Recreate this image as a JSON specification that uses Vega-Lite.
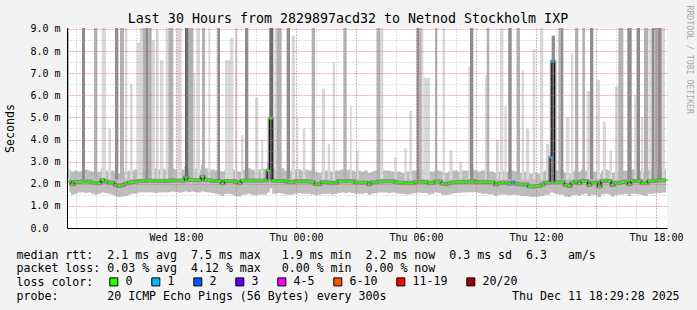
{
  "$schema": "https://vega.github.io/schema/vega-lite/v6.json",
  "width": 600,
  "height": 200,
  "autosize": "none",
  "padding": {"left": 67, "top": 28, "right": 30, "bottom": 82},
  "background": "#f3f3f3",
  "config": {
    "font": "DejaVu Sans Mono",
    "view": {"fill": "white", "stroke": null}
  },
  "title": {
    "text": "Last 30 Hours from 2829897acd32 to Netnod Stockholm IXP",
    "font": "DejaVu Sans Mono",
    "fontSize": 13.3,
    "fontWeight": "normal",
    "color": "black",
    "anchor": "middle",
    "frame": "group",
    "baseline": "alphabetic",
    "offset": 5,
    "dx": -19,
    "dy": 36
  },
  "datasets": {
    "med": [
      {"m":40,"v":2.10,"lo":1.60,"hi":2.65,"loss":"0"},
      {"m":50,"v":1.98,"lo":1.50,"hi":2.55,"loss":"0"},
      {"m":60,"v":2.08,"lo":1.55,"hi":2.60,"loss":"0"},
      {"m":70,"v":2.08,"lo":1.60,"hi":2.55,"loss":"0"},
      {"m":80,"v":2.10,"lo":1.62,"hi":2.60,"loss":"0"},
      {"m":90,"v":2.10,"lo":1.58,"hi":2.65,"loss":"0"},
      {"m":100,"v":2.10,"lo":1.60,"hi":2.60,"loss":"0"},
      {"m":110,"v":2.05,"lo":1.55,"hi":2.55,"loss":"0"},
      {"m":120,"v":2.03,"lo":1.50,"hi":2.50,"loss":"0"},
      {"m":130,"v":2.02,"lo":1.55,"hi":2.55,"loss":"0"},
      {"m":140,"v":2.17,"lo":1.60,"hi":2.70,"loss":"0"},
      {"m":150,"v":2.10,"lo":1.58,"hi":2.60,"loss":"0"},
      {"m":160,"v":2.05,"lo":1.55,"hi":2.55,"loss":"0"},
      {"m":170,"v":2.05,"lo":1.50,"hi":2.60,"loss":"0"},
      {"m":180,"v":1.95,"lo":1.45,"hi":2.50,"loss":"0"},
      {"m":190,"v":1.90,"lo":1.40,"hi":2.45,"loss":"0"},
      {"m":200,"v":1.95,"lo":1.42,"hi":2.50,"loss":"0"},
      {"m":210,"v":2.00,"lo":1.45,"hi":2.55,"loss":"0"},
      {"m":220,"v":2.05,"lo":1.50,"hi":2.60,"loss":"0"},
      {"m":230,"v":2.08,"lo":1.55,"hi":2.60,"loss":"0"},
      {"m":240,"v":2.10,"lo":1.55,"hi":2.65,"loss":"0"},
      {"m":250,"v":2.12,"lo":1.60,"hi":2.65,"loss":"0"},
      {"m":260,"v":2.13,"lo":1.62,"hi":2.70,"loss":"0"},
      {"m":270,"v":2.13,"lo":1.60,"hi":2.65,"loss":"0"},
      {"m":280,"v":2.15,"lo":1.62,"hi":2.70,"loss":"0"},
      {"m":290,"v":2.14,"lo":1.60,"hi":2.65,"loss":"0"},
      {"m":300,"v":2.14,"lo":1.58,"hi":2.70,"loss":"0"},
      {"m":310,"v":2.13,"lo":1.60,"hi":2.65,"loss":"0"},
      {"m":320,"v":2.14,"lo":1.62,"hi":2.70,"loss":"0"},
      {"m":330,"v":2.13,"lo":1.60,"hi":2.65,"loss":"0"},
      {"m":340,"v":2.14,"lo":1.62,"hi":2.70,"loss":"0"},
      {"m":350,"v":2.16,"lo":1.65,"hi":2.70,"loss":"0"},
      {"m":360,"v":2.15,"lo":1.62,"hi":2.65,"loss":"0"},
      {"m":370,"v":2.15,"lo":1.60,"hi":2.70,"loss":"0"},
      {"m":380,"v":2.14,"lo":1.62,"hi":2.65,"loss":"0"},
      {"m":390,"v":2.28,"lo":1.65,"hi":2.80,"loss":"0"},
      {"m":400,"v":2.17,"lo":1.62,"hi":2.70,"loss":"0"},
      {"m":410,"v":2.17,"lo":1.65,"hi":2.65,"loss":"0"},
      {"m":420,"v":2.17,"lo":1.62,"hi":2.70,"loss":"0"},
      {"m":430,"v":2.16,"lo":1.60,"hi":2.65,"loss":"0"},
      {"m":440,"v":2.32,"lo":1.65,"hi":2.85,"loss":"0"},
      {"m":450,"v":2.17,"lo":1.62,"hi":2.70,"loss":"0"},
      {"m":460,"v":2.17,"lo":1.60,"hi":2.65,"loss":"0"},
      {"m":470,"v":2.13,"lo":1.58,"hi":2.65,"loss":"0"},
      {"m":480,"v":2.12,"lo":1.55,"hi":2.60,"loss":"0"},
      {"m":490,"v":2.12,"lo":1.52,"hi":2.60,"loss":"0"},
      {"m":500,"v":2.02,"lo":1.45,"hi":2.55,"loss":"0"},
      {"m":510,"v":2.13,"lo":1.55,"hi":2.65,"loss":"0"},
      {"m":520,"v":2.13,"lo":1.55,"hi":2.60,"loss":"0"},
      {"m":530,"v":2.13,"lo":1.50,"hi":2.65,"loss":"0"},
      {"m":540,"v":2.08,"lo":1.45,"hi":2.60,"loss":"0"},
      {"m":550,"v":2.02,"lo":1.42,"hi":2.55,"loss":"0"},
      {"m":560,"v":2.14,"lo":1.50,"hi":2.65,"loss":"0"},
      {"m":570,"v":2.15,"lo":1.52,"hi":2.65,"loss":"0"},
      {"m":580,"v":2.15,"lo":1.55,"hi":2.70,"loss":"0"},
      {"m":590,"v":2.15,"lo":1.50,"hi":2.65,"loss":"0"},
      {"m":600,"v":2.15,"lo":1.48,"hi":2.60,"loss":"0"},
      {"m":610,"v":2.15,"lo":1.50,"hi":2.65,"loss":"0"},
      {"m":620,"v":2.15,"lo":1.52,"hi":2.70,"loss":"0"},
      {"m":630,"v":2.15,"lo":1.50,"hi":2.65,"loss":"0"},
      {"m":637,"v":2.60,"lo":1.60,"hi":3.00,"loss":"0"},
      {"m":645,"v":4.95,"lo":1.80,"hi":5.40,"loss":"0"},
      {"m":652,"v":2.15,"lo":1.55,"hi":2.70,"loss":"0"},
      {"m":660,"v":2.12,"lo":1.55,"hi":2.65,"loss":"0"},
      {"m":670,"v":2.12,"lo":1.58,"hi":2.65,"loss":"0"},
      {"m":680,"v":2.13,"lo":1.55,"hi":2.70,"loss":"0"},
      {"m":690,"v":2.10,"lo":1.52,"hi":2.60,"loss":"0"},
      {"m":700,"v":2.07,"lo":1.50,"hi":2.60,"loss":"0"},
      {"m":710,"v":2.08,"lo":1.52,"hi":2.60,"loss":"0"},
      {"m":720,"v":2.11,"lo":1.55,"hi":2.65,"loss":"0"},
      {"m":730,"v":2.11,"lo":1.58,"hi":2.65,"loss":"0"},
      {"m":740,"v":2.11,"lo":1.55,"hi":2.60,"loss":"0"},
      {"m":750,"v":2.11,"lo":1.55,"hi":2.65,"loss":"0"},
      {"m":760,"v":2.10,"lo":1.55,"hi":2.60,"loss":"0"},
      {"m":770,"v":2.08,"lo":1.52,"hi":2.60,"loss":"0"},
      {"m":780,"v":1.98,"lo":1.48,"hi":2.55,"loss":"0"},
      {"m":790,"v":1.98,"lo":1.50,"hi":2.50,"loss":"0"},
      {"m":800,"v":2.07,"lo":1.55,"hi":2.60,"loss":"0"},
      {"m":810,"v":2.07,"lo":1.55,"hi":2.60,"loss":"0"},
      {"m":820,"v":2.05,"lo":1.55,"hi":2.60,"loss":"0"},
      {"m":830,"v":2.02,"lo":1.52,"hi":2.55,"loss":"0"},
      {"m":840,"v":2.04,"lo":1.55,"hi":2.60,"loss":"0"},
      {"m":850,"v":2.11,"lo":1.58,"hi":2.60,"loss":"0"},
      {"m":860,"v":2.11,"lo":1.60,"hi":2.65,"loss":"0"},
      {"m":870,"v":2.11,"lo":1.58,"hi":2.60,"loss":"0"},
      {"m":880,"v":2.12,"lo":1.60,"hi":2.65,"loss":"0"},
      {"m":890,"v":2.11,"lo":1.58,"hi":2.60,"loss":"0"},
      {"m":900,"v":2.05,"lo":1.55,"hi":2.55,"loss":"0"},
      {"m":910,"v":2.05,"lo":1.55,"hi":2.60,"loss":"0"},
      {"m":920,"v":2.05,"lo":1.55,"hi":2.55,"loss":"0"},
      {"m":930,"v":2.05,"lo":1.58,"hi":2.60,"loss":"0"},
      {"m":940,"v":1.98,"lo":1.50,"hi":2.50,"loss":"0"},
      {"m":950,"v":2.07,"lo":1.55,"hi":2.55,"loss":"0"},
      {"m":960,"v":2.07,"lo":1.58,"hi":2.60,"loss":"0"},
      {"m":970,"v":2.10,"lo":1.60,"hi":2.60,"loss":"0"},
      {"m":980,"v":2.11,"lo":1.60,"hi":2.60,"loss":"0"},
      {"m":990,"v":2.11,"lo":1.60,"hi":2.60,"loss":"0"},
      {"m":1000,"v":2.11,"lo":1.58,"hi":2.60,"loss":"0"},
      {"m":1010,"v":2.11,"lo":1.60,"hi":2.55,"loss":"0"},
      {"m":1020,"v":2.07,"lo":1.58,"hi":2.55,"loss":"0"},
      {"m":1030,"v":2.05,"lo":1.55,"hi":2.55,"loss":"0"},
      {"m":1040,"v":2.05,"lo":1.55,"hi":2.50,"loss":"0"},
      {"m":1050,"v":2.03,"lo":1.52,"hi":2.55,"loss":"0"},
      {"m":1060,"v":2.02,"lo":1.52,"hi":2.55,"loss":"0"},
      {"m":1070,"v":2.02,"lo":1.55,"hi":2.60,"loss":"0"},
      {"m":1080,"v":2.08,"lo":1.58,"hi":2.60,"loss":"0"},
      {"m":1090,"v":2.09,"lo":1.60,"hi":2.65,"loss":"0"},
      {"m":1100,"v":2.09,"lo":1.58,"hi":2.65,"loss":"0"},
      {"m":1110,"v":2.08,"lo":1.58,"hi":2.60,"loss":"0"},
      {"m":1120,"v":2.02,"lo":1.52,"hi":2.55,"loss":"0"},
      {"m":1130,"v":2.03,"lo":1.55,"hi":2.55,"loss":"0"},
      {"m":1140,"v":2.10,"lo":1.60,"hi":2.60,"loss":"0"},
      {"m":1150,"v":2.10,"lo":1.58,"hi":2.60,"loss":"0"},
      {"m":1160,"v":2.00,"lo":1.50,"hi":2.55,"loss":"0"},
      {"m":1170,"v":1.98,"lo":1.50,"hi":2.50,"loss":"0"},
      {"m":1180,"v":2.02,"lo":1.52,"hi":2.55,"loss":"0"},
      {"m":1190,"v":2.06,"lo":1.55,"hi":2.60,"loss":"0"},
      {"m":1200,"v":2.07,"lo":1.58,"hi":2.60,"loss":"0"},
      {"m":1210,"v":2.08,"lo":1.58,"hi":2.55,"loss":"0"},
      {"m":1220,"v":2.09,"lo":1.60,"hi":2.60,"loss":"0"},
      {"m":1230,"v":2.08,"lo":1.60,"hi":2.60,"loss":"0"},
      {"m":1240,"v":2.09,"lo":1.62,"hi":2.60,"loss":"0"},
      {"m":1250,"v":2.13,"lo":1.62,"hi":2.65,"loss":"0"},
      {"m":1260,"v":2.08,"lo":1.60,"hi":2.60,"loss":"0"},
      {"m":1270,"v":2.07,"lo":1.58,"hi":2.55,"loss":"0"},
      {"m":1280,"v":2.07,"lo":1.55,"hi":2.60,"loss":"0"},
      {"m":1290,"v":2.08,"lo":1.55,"hi":2.60,"loss":"0"},
      {"m":1300,"v":2.07,"lo":1.52,"hi":2.55,"loss":"0"},
      {"m":1310,"v":2.07,"lo":1.52,"hi":2.55,"loss":"0"},
      {"m":1320,"v":1.97,"lo":1.45,"hi":2.50,"loss":"0"},
      {"m":1330,"v":2.02,"lo":1.50,"hi":2.55,"loss":"0"},
      {"m":1340,"v":2.05,"lo":1.52,"hi":2.60,"loss":"0"},
      {"m":1350,"v":2.05,"lo":1.50,"hi":2.55,"loss":"0"},
      {"m":1360,"v":2.00,"lo":1.48,"hi":2.55,"loss":"0"},
      {"m":1370,"v":2.07,"lo":1.50,"hi":2.60,"loss":"1"},
      {"m":1380,"v":2.00,"lo":1.50,"hi":2.55,"loss":"0"},
      {"m":1390,"v":1.98,"lo":1.48,"hi":2.50,"loss":"0"},
      {"m":1400,"v":1.97,"lo":1.45,"hi":2.50,"loss":"0"},
      {"m":1410,"v":1.97,"lo":1.45,"hi":2.55,"loss":"0"},
      {"m":1420,"v":1.88,"lo":1.42,"hi":2.45,"loss":"0"},
      {"m":1430,"v":1.87,"lo":1.40,"hi":2.45,"loss":"0"},
      {"m":1440,"v":1.90,"lo":1.42,"hi":2.50,"loss":"0"},
      {"m":1450,"v":1.90,"lo":1.42,"hi":2.45,"loss":"0"},
      {"m":1460,"v":1.97,"lo":1.45,"hi":2.55,"loss":"0"},
      {"m":1470,"v":2.05,"lo":1.50,"hi":2.60,"loss":"0"},
      {"m":1480,"v":2.05,"lo":1.52,"hi":2.60,"loss":"0"},
      {"m":1485,"v":3.20,"lo":1.60,"hi":3.60,"loss":"1"},
      {"m":1490,"v":7.53,"lo":1.60,"hi":8.00,"loss":"1"},
      {"m":1500,"v":2.07,"lo":1.55,"hi":2.60,"loss":"0"},
      {"m":1510,"v":2.07,"lo":1.52,"hi":2.60,"loss":"0"},
      {"m":1520,"v":2.07,"lo":1.50,"hi":2.60,"loss":"0"},
      {"m":1530,"v":1.95,"lo":1.42,"hi":2.50,"loss":"0"},
      {"m":1540,"v":1.90,"lo":1.40,"hi":2.45,"loss":"0"},
      {"m":1550,"v":2.05,"lo":1.48,"hi":2.55,"loss":"0"},
      {"m":1560,"v":2.10,"lo":1.50,"hi":2.60,"loss":"0"},
      {"m":1570,"v":2.02,"lo":1.45,"hi":2.55,"loss":"0"},
      {"m":1580,"v":2.12,"lo":1.52,"hi":2.65,"loss":"0"},
      {"m":1590,"v":2.12,"lo":1.55,"hi":2.60,"loss":"0"},
      {"m":1600,"v":1.95,"lo":1.45,"hi":2.50,"loss":"0"},
      {"m":1610,"v":2.05,"lo":1.50,"hi":2.55,"loss":"0"},
      {"m":1620,"v":2.05,"lo":1.48,"hi":2.55,"loss":"0"},
      {"m":1630,"v":1.88,"lo":1.40,"hi":2.45,"loss":"0"},
      {"m":1640,"v":2.13,"lo":1.52,"hi":2.60,"loss":"0"},
      {"m":1650,"v":2.14,"lo":1.55,"hi":2.65,"loss":"0"},
      {"m":1660,"v":2.12,"lo":1.52,"hi":2.60,"loss":"0"},
      {"m":1670,"v":1.95,"lo":1.42,"hi":2.50,"loss":"0"},
      {"m":1680,"v":2.03,"lo":1.48,"hi":2.55,"loss":"0"},
      {"m":1690,"v":2.03,"lo":1.50,"hi":2.55,"loss":"0"},
      {"m":1700,"v":2.08,"lo":1.52,"hi":2.60,"loss":"0"},
      {"m":1710,"v":2.10,"lo":1.55,"hi":2.60,"loss":"0"},
      {"m":1720,"v":1.98,"lo":1.45,"hi":2.50,"loss":"0"},
      {"m":1730,"v":2.13,"lo":1.55,"hi":2.65,"loss":"0"},
      {"m":1740,"v":2.13,"lo":1.55,"hi":2.60,"loss":"0"},
      {"m":1750,"v":2.12,"lo":1.52,"hi":2.60,"loss":"0"},
      {"m":1760,"v":2.02,"lo":1.48,"hi":2.55,"loss":"0"},
      {"m":1770,"v":2.02,"lo":1.45,"hi":2.55,"loss":"0"},
      {"m":1780,"v":2.13,"lo":1.55,"hi":2.65,"loss":"0"},
      {"m":1790,"v":2.13,"lo":1.55,"hi":2.60,"loss":"0"},
      {"m":1800,"v":2.13,"lo":1.58,"hi":2.65,"loss":"0"},
      {"m":1810,"v":2.16,"lo":1.58,"hi":2.65,"loss":"0"},
      {"m":1820,"v":2.16,"lo":1.60,"hi":2.70,"loss":"0"},
      {"m":1830,"v":2.16,"lo":1.60,"hi":2.65,"loss":"0"}
    ],
    "spk": [
      {"a":33,"b":38,"t":10,"g":3},
      {"a":78,"b":87,"t":10,"g":3},
      {"a":114,"b":124,"t":10,"g":2},
      {"a":137,"b":150,"t":10,"g":1},
      {"a":157,"b":165,"t":4.5,"g":1},
      {"a":177,"b":187,"t":10,"g":3},
      {"a":192,"b":204,"t":10,"g":2},
      {"a":207,"b":214,"t":10,"g":1},
      {"a":222,"b":230,"t":6.5,"g":1},
      {"a":242,"b":252,"t":8.4,"g":1},
      {"a":252,"b":260,"t":10,"g":1},
      {"a":260,"b":268,"t":10,"g":2},
      {"a":268,"b":277,"t":10,"g":3},
      {"a":277,"b":287,"t":10,"g":2},
      {"a":287,"b":297,"t":8.5,"g":1},
      {"a":300,"b":308,"t":9.0,"g":1},
      {"a":312,"b":322,"t":7.6,"g":1},
      {"a":329,"b":337,"t":10,"g":1},
      {"a":337,"b":352,"t":10,"g":2},
      {"a":362,"b":377,"t":10,"g":1},
      {"a":387,"b":397,"t":10,"g":4},
      {"a":397,"b":412,"t":10,"g":2},
      {"a":412,"b":418,"t":7.0,"g":1},
      {"a":422,"b":432,"t":10,"g":1},
      {"a":438,"b":447,"t":10,"g":2},
      {"a":457,"b":463,"t":10,"g":1},
      {"a":484,"b":492,"t":10,"g":3},
      {"a":507,"b":522,"t":7.6,"g":1},
      {"a":522,"b":532,"t":8.6,"g":1},
      {"a":537,"b":544,"t":10,"g":1},
      {"a":555,"b":562,"t":4.2,"g":1},
      {"a":567,"b":577,"t":10,"g":3},
      {"a":597,"b":607,"t":5.9,"g":1},
      {"a":615,"b":622,"t":4.0,"g":1},
      {"a":640,"b":652,"t":10,"g":4},
      {"a":656,"b":662,"t":10,"g":1},
      {"a":662,"b":677,"t":10,"g":2},
      {"a":692,"b":702,"t":10,"g":3},
      {"a":707,"b":717,"t":8.7,"g":1},
      {"a":722,"b":727,"t":5.0,"g":1},
      {"a":740,"b":748,"t":4.5,"g":1},
      {"a":767,"b":777,"t":10,"g":2},
      {"a":797,"b":807,"t":6.3,"g":1},
      {"a":815,"b":822,"t":3.8,"g":1},
      {"a":830,"b":837,"t":7.5,"g":1},
      {"a":862,"b":872,"t":10,"g":2},
      {"a":882,"b":887,"t":5.5,"g":1},
      {"a":900,"b":908,"t":3.5,"g":1},
      {"a":962,"b":972,"t":10,"g":2},
      {"a":972,"b":982,"t":10,"g":1},
      {"a":1015,"b":1022,"t":3.2,"g":1},
      {"a":1045,"b":1052,"t":3.6,"g":1},
      {"a":1060,"b":1068,"t":5.3,"g":1},
      {"a":1082,"b":1090,"t":10,"g":3},
      {"a":1090,"b":1097,"t":10,"g":2},
      {"a":1097,"b":1102,"t":10,"g":1},
      {"a":1102,"b":1122,"t":6.8,"g":1},
      {"a":1137,"b":1144,"t":10,"g":2},
      {"a":1160,"b":1167,"t":10,"g":1},
      {"a":1180,"b":1190,"t":3.5,"g":1},
      {"a":1210,"b":1218,"t":3.0,"g":1},
      {"a":1237,"b":1244,"t":7.3,"g":1},
      {"a":1242,"b":1252,"t":10,"g":3},
      {"a":1287,"b":1294,"t":6.9,"g":1},
      {"a":1292,"b":1300,"t":10,"g":2},
      {"a":1320,"b":1328,"t":4.0,"g":1},
      {"a":1332,"b":1342,"t":10,"g":1},
      {"a":1345,"b":1352,"t":5.5,"g":1},
      {"a":1357,"b":1367,"t":10,"g":3},
      {"a":1382,"b":1392,"t":10,"g":2},
      {"a":1397,"b":1404,"t":7.1,"g":1},
      {"a":1410,"b":1420,"t":4.5,"g":1},
      {"a":1430,"b":1438,"t":8.1,"g":1},
      {"a":1452,"b":1462,"t":10,"g":1},
      {"a":1470,"b":1480,"t":3.8,"g":1},
      {"a":1487,"b":1497,"t":8.7,"g":3},
      {"a":1507,"b":1514,"t":10,"g":2},
      {"a":1514,"b":1522,"t":10,"g":3},
      {"a":1530,"b":1540,"t":5.0,"g":1},
      {"a":1545,"b":1552,"t":7.9,"g":1},
      {"a":1557,"b":1567,"t":10,"g":2},
      {"a":1579,"b":1587,"t":10,"g":2},
      {"a":1592,"b":1602,"t":6.2,"g":1},
      {"a":1602,"b":1612,"t":10,"g":3},
      {"a":1622,"b":1632,"t":6.7,"g":1},
      {"a":1640,"b":1650,"t":4.8,"g":1},
      {"a":1660,"b":1668,"t":3.5,"g":1},
      {"a":1677,"b":1687,"t":6.4,"g":1},
      {"a":1687,"b":1702,"t":10,"g":2},
      {"a":1714,"b":1727,"t":10,"g":3},
      {"a":1735,"b":1742,"t":6.0,"g":1},
      {"a":1742,"b":1752,"t":10,"g":3},
      {"a":1755,"b":1762,"t":5.0,"g":1},
      {"a":1764,"b":1777,"t":10,"g":2},
      {"a":1780,"b":1787,"t":9.0,"g":1},
      {"a":1787,"b":1794,"t":10,"g":3},
      {"a":1794,"b":1804,"t":10,"g":2},
      {"a":1804,"b":1817,"t":10,"g":3},
      {"a":1817,"b":1827,"t":10,"g":1}
    ]
  },
  "resolve": {
    "axis": {"x": "independent", "y": "independent"},
    "scale": {"color": "independent"}
  },
  "layer": [
    {
      "data": {"name": "med"},
      "mark": {"type": "area", "interpolate": "step", "color": "#bdbdbd", "opacity": 1},
      "encoding": {
        "x": {
          "field": "m", "type": "quantitative",
          "scale": {"domain": [33, 1833], "nice": false, "zero": false},
          "axis": {
            "orient": "bottom",
            "values": [60,120,180,240,300,360,420,480,540,600,660,720,780,840,900,960,1020,1080,1140,1200,1260,1320,1380,1440,1500,1560,1620,1680,1740,1800],
            "grid": true, "gridColor": "#999999", "gridDash": [1, 2], "gridOpacity": 0.6, "gridWidth": 1,
            "domain": true, "domainColor": "black", "domainWidth": 1,
            "ticks": false,
            "labelExpr": "datum.value == 360 ? 'Wed 18:00' : datum.value == 720 ? 'Thu 00:00' : datum.value == 1080 ? 'Thu 06:00' : datum.value == 1440 ? 'Thu 12:00' : datum.value == 1800 ? 'Thu 18:00' : ''",
            "labelFont": "DejaVu Sans Mono", "labelFontSize": 10, "labelColor": "black",
            "labelPadding": 4, "labelBaseline": "top", "labelFlush": false, "labelOverlap": false, "labelBound": false,
            "title": [
              "median rtt:\u00a0\u00a02.1 ms avg\u00a0\u00a07.5 ms max\u00a0\u00a0\u00a01.9 ms min\u00a0\u00a02.2 ms now\u00a0\u00a00.3 ms sd\u00a0\u00a06.3\u00a0\u00a0\u00a0am/s",
              "packet loss: 0.03 % avg\u00a0\u00a04.12 % max\u00a0\u00a0\u00a00.00 % min\u00a0\u00a00.00 % now",
              "loss color:",
              "probe:\u00a0\u00a0\u00a0\u00a0\u00a0\u00a0\u00a020 ICMP Echo Pings (56 Bytes) every 300s\u00a0\u00a0\u00a0\u00a0\u00a0\u00a0\u00a0\u00a0\u00a0\u00a0\u00a0\u00a0\u00a0\u00a0\u00a0\u00a0\u00a0\u00a0Thu Dec 11 18:29:28 2025"
            ],
            "titleFont": "DejaVu Sans Mono", "titleFontSize": 11.6, "titleFontWeight": "normal", "titleColor": "black",
            "titleX": -51, "titleY": 30.3, "titleAlign": "left", "titleAnchor": "start", "titleBaseline": "alphabetic", "titleLineHeight": 13.6,
            "zindex": 1
          }
        },
        "y": {
          "field": "lo", "type": "quantitative",
          "scale": {"domain": [0, 9.045], "nice": false, "zero": true},
          "axis": {
            "orient": "left",
            "values": [0,0.5,1,1.5,2,2.5,3,3.5,4,4.5,5,5.5,6,6.5,7,7.5,8,8.5,9],
            "grid": true, "gridColor": "#999999", "gridDash": [1, 2], "gridOpacity": 0.6, "gridWidth": 1,
            "domain": true, "domainColor": "black", "domainWidth": 1,
            "ticks": false,
            "labelExpr": "datum.value % 1 !== 0 ? '' : datum.value === 0 ? '0.0' : format(datum.value, '.1f') + ' m'",
            "labelFont": "DejaVu Sans Mono", "labelFontSize": 10, "labelColor": "black",
            "labelAlign": "left", "labelPadding": 37, "labelBaseline": "middle", "labelOverlap": false, "labelBound": false, "labelFlush": false,
            "title": "Seconds",
            "titleFont": "DejaVu Sans Mono", "titleFontSize": 11.6, "titleFontWeight": "normal", "titleColor": "black",
            "titleX": -57, "titleY": 100, "titleAngle": -90, "titleAlign": "center", "titleBaseline": "middle",
            "zindex": 1
          }
        },
        "y2": {"field": "hi"}
      }
    },
    {
      "data": {"name": "spk"},
      "mark": {"type": "rect", "clip": true},
      "encoding": {
        "x": {
          "field": "a", "type": "quantitative",
          "axis": {
            "orient": "bottom",
            "values": [180,360,540,720,900,1080,1260,1440,1620,1800],
            "grid": true, "gridColor": "#ff5a5a", "gridDash": [1, 2], "gridOpacity": 0.7, "gridWidth": 1,
            "domain": false, "ticks": false, "labels": false, "title": null,
            "zindex": 2
          }
        },
        "x2": {"field": "b"},
        "y": {
          "field": "t", "type": "quantitative",
          "axis": {
            "orient": "right",
            "values": [1,2,3,4,5,6,7,8,9],
            "grid": true, "gridColor": "#ff5a5a", "gridDash": [1, 2], "gridOpacity": 0.7, "gridWidth": 1,
            "domain": false, "ticks": false, "labels": false,
            "title": "RRDTOOL / TOBI OETIKER",
            "titleFont": "DejaVu Sans Mono", "titleFontSize": 8.2, "titleFontWeight": "normal", "titleColor": "#a8a8a8",
            "titleAngle": 90, "titleX": 21, "titleY": -23, "titleAlign": "left", "titleBaseline": "middle",
            "zindex": 2
          }
        },
        "y2": {"datum": 2.2},
        "color": {
          "field": "g", "type": "ordinal",
          "scale": {"domain": [1, 2, 3, 4], "range": ["#d8d8d8", "#b2b2b2", "#8e8e8e", "#6c6c6c"]},
          "legend": null
        },
        "order": {"field": "g"}
      }
    },
    {
      "data": {"name": "med"},
      "mark": {"type": "line", "interpolate": "step", "color": "#7a7a7a", "strokeWidth": 4, "strokeJoin": "round", "opacity": 0.8},
      "encoding": {
        "x": {"field": "m", "type": "quantitative", "axis": null},
        "y": {"field": "v", "type": "quantitative", "axis": null}
      }
    },
    {
      "data": {"name": "med"},
      "mark": {"type": "line", "interpolate": "step", "color": "black", "strokeWidth": 1},
      "encoding": {
        "x": {"field": "m", "type": "quantitative", "axis": null},
        "y": {"field": "v", "type": "quantitative", "axis": null}
      }
    },
    {
      "data": {"name": "med"},
      "mark": {"type": "point", "shape": "M-0.85,-0.5L0.85,-0.5L0.85,0.5L-0.85,0.5Z", "filled": true, "size": 16, "opacity": 1},
      "encoding": {
        "x": {"field": "m", "type": "quantitative", "axis": null},
        "y": {"field": "v", "type": "quantitative", "axis": null},
        "color": {
          "field": "loss", "type": "nominal",
          "scale": {
            "domain": ["0", "1", "2", "3", "4-5", "6-10", "11-19", "20/20"],
            "range": ["#26ff00", "#00b8ff", "#0059ff", "#5e00ff", "#ff00ff", "#ff5500", "#ff0000", "#a10000"]
          },
          "legend": {
            "orient": "none", "legendX": 41, "legendY": 248,
            "direction": "horizontal", "title": null,
            "symbolType": "square", "symbolSize": 64,
            "symbolStrokeColor": "black", "symbolStrokeWidth": 1, "symbolOpacity": 1,
            "labelFont": "DejaVu Sans Mono", "labelFontSize": 11.6, "labelColor": "black",
            "labelOffset": 6, "columnPadding": 16, "padding": 0
          }
        }
      }
    }
  ]
}
